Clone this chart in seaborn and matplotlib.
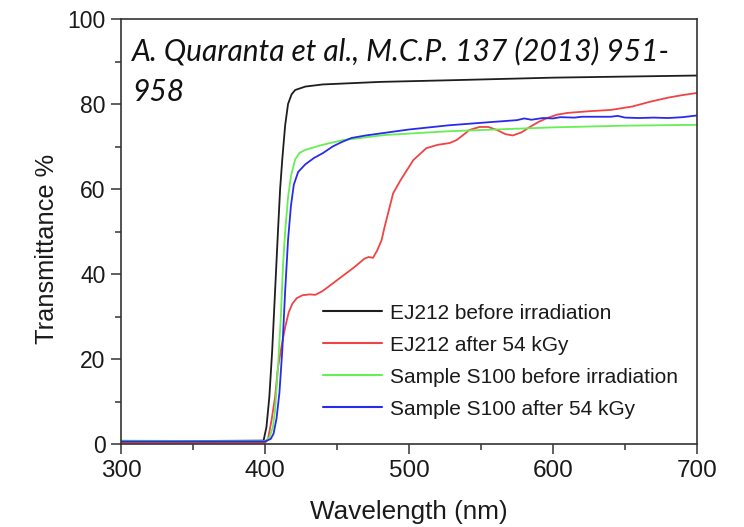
import numpy as np
import pandas as pd
import matplotlib
matplotlib.use("Agg")
import matplotlib.pyplot as plt
import seaborn as sns
from matplotlib.ticker import MultipleLocator

# ---- data ----
series_names = ["EJ212 before irradiation", "EJ212 after 54 kGy",
                "Sample S100 before irradiation", "Sample S100 after 54 kGy"]
series_colors = ["#1e1e1e", "#f04444", "#66ee55", "#2a2aee"]

wl_ej_before = [300, 350, 399, 401, 403, 405, 407, 409, 410.5, 412, 414, 416, 418.5,
                421, 428, 440, 480, 530, 600, 700]
t_ej_before = [0.6, 0.7, 0.8, 4, 11, 22, 36, 50, 60, 67, 75, 80, 82.3,
               83.3, 84.1, 84.6, 85.2, 85.6, 86.2, 86.7]

wl_ej_after = [300, 350, 400, 402, 404.5, 407, 409, 411.5, 414, 416.5, 419, 422, 426,
               431, 435, 440, 444, 453, 462, 469, 472, 475, 478, 481, 483, 486, 489,
               494, 503, 512, 520, 528, 533, 538, 542, 549, 555, 561, 567, 572, 578,
               584, 590, 596, 603, 610, 625, 640, 655, 667, 680, 690, 700]
t_ej_after = [0.3, 0.3, 0.3, 1.0, 5.5, 11, 18, 23, 27.5, 31, 33, 34.3, 35.0,
              35.2, 35.1, 36, 37, 39.3, 41.6, 43.6, 44, 43.8, 45.6, 48, 51, 55, 59,
              62, 66.8, 69.6, 70.4, 70.8, 71.5, 72.8, 73.9, 74.6, 74.6, 73.9, 72.9, 72.6, 73.3,
              74.6, 75.8, 76.7, 77.5, 77.9, 78.3, 78.6, 79.4, 80.5, 81.5, 82.1, 82.6]

wl_s100_before = [300, 350, 400, 403, 405.5, 407, 409, 411, 412.5, 414, 416, 418, 421,
                  424, 428, 434, 440, 454, 483, 528, 600, 650, 700]
t_s100_before = [0.8, 0.7, 0.7, 1.5, 4, 8, 18, 30, 42, 50, 58, 63, 67,
                 68.5, 69.2, 69.8, 70.4, 71.5, 72.7, 73.6, 74.5, 74.9, 75.1]

wl_s100_after = [300, 350, 400, 404, 406, 408, 410, 412, 414, 416, 418, 420, 423,
                 428, 434, 440, 447, 453, 460, 470, 485, 500, 528, 555, 575, 580,
                 585, 593, 600, 605, 615, 620, 640, 645, 650, 660, 670, 680, 690, 700]
t_s100_after = [0.6, 0.6, 0.6, 1.2, 2.5, 6, 12, 22, 36, 48, 56, 61, 64,
                65.8, 67.3, 68.4, 70.0, 71.0, 72.0, 72.6, 73.3, 74.0, 75.0, 75.7, 76.2, 76.6,
                76.3, 76.7, 76.6, 76.9, 76.8, 77.0, 77.0, 77.2, 76.8, 76.7, 76.8, 76.7, 76.9, 77.3]

x_ticks = [300, 400, 500, 600, 700]
y_ticks = [0, 20, 40, 60, 80, 100]
citation_lines = ["A. Quaranta et al., M.C.P. 137 (2013) 951-", "958"]

# ---- build long table ----
frames = []
for name, wl, t in zip(series_names,
                       [wl_ej_before, wl_ej_after, wl_s100_before, wl_s100_after],
                       [t_ej_before, t_ej_after, t_s100_before, t_s100_after]):
    frames.append(pd.DataFrame({"wl": wl, "T": t, "series": name}))
df = pd.concat(frames, ignore_index=True)

sns.set_style("ticks")
plt.rcParams["font.family"] = ["Liberation Sans", "DejaVu Sans"]

fig = plt.figure(figsize=(7.44, 5.27), dpi=100)
ax = fig.add_axes([121 / 744, 83 / 527, 576 / 744, 425 / 527])

sns.lineplot(data=df, x="wl", y="T", hue="series", hue_order=series_names,
             palette=dict(zip(series_names, series_colors)), sort=False,
             estimator=None, linewidth=1.3, ax=ax)

ax.set_xlim(300, 700)
ax.set_ylim(0, 100)
ax.set_xticks(x_ticks)
ax.set_yticks(y_ticks)
ax.xaxis.set_minor_locator(MultipleLocator(50))
ax.yaxis.set_minor_locator(MultipleLocator(10))
ax.tick_params(which="major", direction="out", length=7, width=1.1,
               colors="#333333", labelcolor="#1a1a1a")
ax.tick_params(axis="x", which="major", labelsize=17.5, pad=4.5)
ax.tick_params(axis="y", which="major", labelsize=16.5, pad=4)
ax.tick_params(which="minor", direction="out", length=4, width=1.1, colors="#333333")
for s in ax.spines.values():
    s.set_visible(True)
    s.set_color("#333333")
    s.set_linewidth(1.2)

ax.set_xlabel("Wavelength (nm)", fontsize=18.8, color="#1a1a1a", labelpad=13)
ax.set_ylabel("Transmittance %", fontsize=18.3, color="#1a1a1a")
ax.yaxis.set_label_coords(-0.108, 0.459)

for line_text, y_frac in zip(citation_lines, [0.902, 0.808]):
    ax.text(0.019, y_frac, line_text, transform=ax.transAxes, ha="left",
            va="baseline", fontsize=21.5, style="italic",
            family=["Lato", "DejaVu Sans"], color="#111111")

handles, labels = ax.get_legend_handles_labels()
leg = ax.legend(handles, labels, loc="center left", frameon=False,
                bbox_to_anchor=(0.350, 0.195), borderpad=0, borderaxespad=0,
                fontsize=15, handlelength=2.85, handletextpad=0.4,
                labelspacing=0.625)
for txt in leg.get_texts():
    txt.set_color("#1a1a1a")
for ln in leg.get_lines():
    ln.set_linewidth(1.5)

fig.savefig("out.png", dpi=100)
